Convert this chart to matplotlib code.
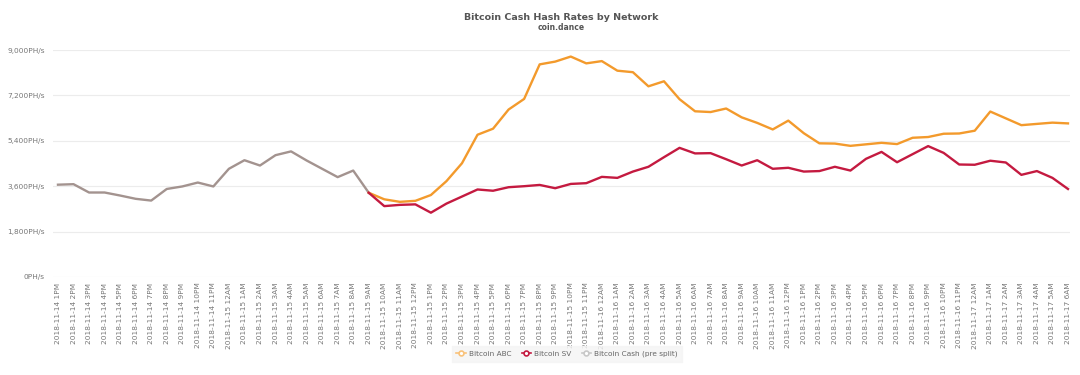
import numpy as np
import pandas as pd
import matplotlib
matplotlib.use("Agg")
import matplotlib.pyplot as plt
from matplotlib.lines import Line2D

# ---- data ----
time_labels = [t.strftime("%Y-%m-%d ") + t.strftime("%I%p").lstrip("0")
               for t in pd.date_range("2018-11-14 13:00", "2018-11-17 06:00", freq="h")]

pre_split = [3660, 3680, 3350, 3350, 3230, 3100, 3030, 3490, 3590, 3745, 3590,
             4290, 4630, 4420, 4830, 4980, 4620, 4290, 3960, 4220, 3340]

bitcoin_abc = [3340, 3080, 2980, 3020, 3250, 3800, 4510, 5640, 5880, 6640,
               7060, 8430, 8540, 8740, 8470, 8560, 8180, 8120, 7560, 7760,
               7050, 6570, 6540, 6680, 6330, 6110, 5850, 6200, 5700, 5300,
               5290, 5200, 5260, 5320, 5270, 5520, 5550, 5680, 5690, 5800,
               6560, 6290, 6020, 6070, 6120, 6090]

bitcoin_sv = [3340, 2810, 2860, 2880, 2550, 2910, 3190, 3470, 3420, 3560,
              3600, 3650, 3520, 3690, 3720, 3970, 3930, 4180, 4370, 4750,
              5120, 4900, 4910, 4670, 4420, 4630, 4290, 4330, 4180, 4200,
              4370, 4220, 4685, 4960, 4550, 4870, 5190, 4920, 4460, 4450,
              4610, 4540, 4050, 4200, 3930, 3490]

y_ticks = [0, 1800, 3600, 5400, 7200, 9000]
series_names = ["Bitcoin ABC", "Bitcoin SV", "Bitcoin Cash (pre split)"]

# ---- build aligned series ----
n = len(time_labels)
x = np.arange(n)
split = len(pre_split) - 1
gray_full = np.full(n, np.nan); gray_full[:len(pre_split)] = pre_split
abc_full = np.full(n, np.nan); abc_full[split:split + len(bitcoin_abc)] = bitcoin_abc
sv_full = np.full(n, np.nan); sv_full[split:split + len(bitcoin_sv)] = bitcoin_sv

c_abc = "#f39a2c"
c_sv = "#c41a40"
c_gray = "#a3938f"

fig = plt.figure(figsize=(10.8, 3.75), dpi=100)
ax = fig.add_axes([53 / 1080, 98 / 375, (1070 - 53) / 1080, 227 / 375])

ax.plot(x, gray_full, color=c_gray, lw=1.7, zorder=3, solid_joinstyle="round")
ax.plot(x, abc_full, color=c_abc, lw=1.7, zorder=3, solid_joinstyle="round")
ax.plot(x, sv_full, color=c_sv, lw=1.7, zorder=4, solid_joinstyle="round")

ax.set_xlim(-0.32, n - 1 + 0.13)
ax.set_ylim(0, 9000)
ax.set_yticks(y_ticks)
ax.set_yticklabels([f"{v:,}PH/s" for v in y_ticks])
ax.set_xticks(x)
ax.set_xticklabels(time_labels, rotation=90, va="top", ha="center")
ax.tick_params(axis="both", length=0, colors="#777777", labelsize=5.3)
ax.tick_params(axis="y", pad=6)
ax.tick_params(axis="x", pad=4)
ax.grid(axis="y", color="#ececec", lw=0.8, zorder=0)
for s in ax.spines.values():
    s.set_visible(False)

cx = (53 + 1070) / 2 / 1080
fig.text(cx, 1 - 17 / 375, "Bitcoin Cash Hash Rates by Network", ha="center", va="center",
         fontsize=6.8, fontweight="bold", color="#555555")
fig.text(cx, 1 - 28 / 375, "coin.dance", ha="center", va="center",
         fontsize=5.5, fontweight="bold", color="#555555")

handles = [
    Line2D([], [], color="#f9c27a", lw=1.2, marker="o", ms=3.5, mfc="white", mec="#f9c27a", mew=1.2),
    Line2D([], [], color=c_sv, lw=1.2, marker="o", ms=3.5, mfc="white", mec=c_sv, mew=1.2),
    Line2D([], [], color="#c8c8c8", lw=1.2, marker="o", ms=3.5, mfc="white", mec="#c8c8c8", mew=1.2),
]
leg = fig.legend(handles, series_names, loc="center", bbox_to_anchor=(567 / 1080, 1 - 354 / 375),
                 ncol=3, frameon=True, fontsize=5.3, handlelength=1.3, handletextpad=0.4,
                 columnspacing=1.4, borderpad=0.6, fancybox=False)
leg.get_frame().set_facecolor("#f4f4f4")
leg.get_frame().set_edgecolor("#f4f4f4")
for t in leg.get_texts():
    t.set_color("#666666")

fig.savefig("out.png", dpi=100, facecolor="white")
